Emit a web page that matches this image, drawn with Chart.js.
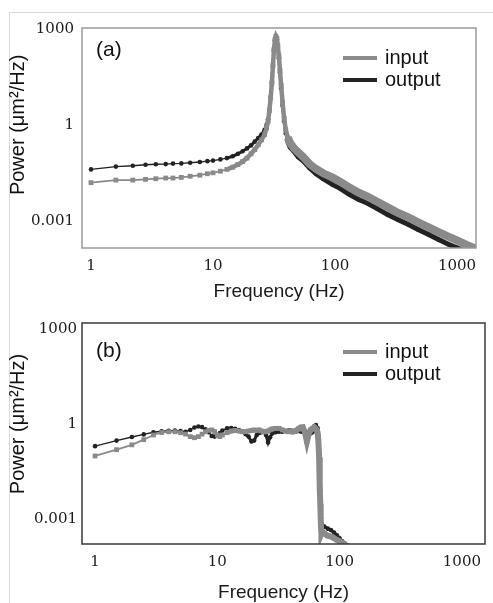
<!DOCTYPE html>
<html lang="en">
<head>
<meta charset="UTF-8">
<title>Power spectra - input vs output</title>
<script src="https://cdn.jsdelivr.net/npm/chart.js@4.4.0/dist/chart.umd.min.js"></script>
<style>
    * { margin: 0; padding: 0; box-sizing: border-box; }
    body { background: #fff; width: 493px; height: 603px; overflow: hidden; position: relative; }
    .frame {
        position: absolute; left: 9px; top: 12px; right: 0; bottom: 0;
        border-top: 1px solid #dadada; border-left: 1px solid #dadada;
    }
    canvas { position: absolute; left: 0; }
    #chartA { top: 0; }
    #chartB { top: 300px; }
</style>
</head>
<body>
<div class="frame"></div>
<canvas id="chartA" width="493" height="320"></canvas>
<canvas id="chartB" width="493" height="320"></canvas>

<script>
// ---- data ----
const xTicks = [1, 10, 100, 1000];
const xTickLabels = ['1', '10', '100', '1000'];
const yTicks = [0.001, 1, 1000];
const yTickLabels = ['0.001', '1', '1000'];
const seriesNames = ['input', 'output'];

// panel (a)
const freqA = [1, 1.6, 2.2, 2.8, 3.4, 4.1, 4.7, 5.5, 6.5, 7.8,
    9, 10, 11.5, 13, 14.5, 16, 17.5, 19, 20.5, 22,
    23.5, 25, 26.5, 27.5, 28.3, 29, 29.7, 30.4, 31, 31.6,
    32.2, 32.8, 33.4, 34, 34.7, 35.4, 36.2, 37.2, 38.3, 39.5,
    41, 43, 46, 50, 55, 62, 70, 80, 95, 110,
    130, 155, 185, 220, 270, 330, 400, 480, 580, 700,
    850, 1000, 1200, 1450];
const inputA = [0.0158, 0.019, 0.019, 0.020, 0.021, 0.022, 0.022, 0.023, 0.025, 0.027,
    0.030, 0.032, 0.036, 0.041, 0.048, 0.058, 0.072, 0.092, 0.125, 0.17,
    0.24, 0.34, 0.5, 0.8, 1.3, 2.8, 7, 20, 70, 220,
    450, 580, 500, 300, 140, 50, 17, 5, 1.6, 0.7,
    0.4, 0.27, 0.19, 0.14, 0.1, 0.06, 0.042, 0.031, 0.023, 0.017,
    0.0115, 0.0078, 0.0058, 0.0041, 0.0027, 0.0018, 0.0013, 0.00092, 0.00065, 0.00046,
    0.00033, 0.00025, 0.00018, 0.000135];
const outputA = [0.041, 0.050, 0.053, 0.057, 0.059, 0.060, 0.062, 0.063, 0.066, 0.070,
    0.074, 0.077, 0.084, 0.092, 0.105, 0.125, 0.15, 0.185, 0.23, 0.30,
    0.39, 0.50, 0.7, 1.0, 1.5, 3, 7.5, 21, 70, 210,
    430, 560, 470, 270, 120, 42, 14, 4, 1.3, 0.55,
    0.3, 0.2, 0.15, 0.1, 0.075, 0.045, 0.03, 0.021, 0.014, 0.0105,
    0.0070, 0.0048, 0.0036, 0.0025, 0.0016, 0.0011, 0.00078, 0.00055, 0.00039, 0.00027,
    0.00019, 0.000148, 0.00011, 0.00008];

// panel (b)
const freqB = [1, 1.5, 2, 2.5, 3, 3.5, 4, 4.5, 5, 5.5,
    6, 6.5, 7, 7.5, 8, 8.5, 9, 9.5, 10, 10.5,
    11, 12, 13, 14, 15, 16, 17, 18, 19, 20,
    21, 22, 23, 24, 25, 26, 27, 28, 30, 32,
    34, 36, 38, 40, 42, 44, 46, 48, 50, 52,
    54, 56, 58, 60, 62, 64, 66, 67, 68, 68.5,
    69, 69.5, 70, 70.5, 71, 72, 75, 80, 85, 90,
    95, 100, 105, 110, 115, 120];
const inputB = [0.098, 0.155, 0.22, 0.32, 0.45, 0.54, 0.57, 0.57, 0.53, 0.48,
    0.40, 0.37, 0.40, 0.48, 0.57, 0.63, 0.65, 0.58, 0.45, 0.40,
    0.45, 0.53, 0.60, 0.62, 0.60, 0.57, 0.57, 0.60, 0.62, 0.65,
    0.63, 0.65, 0.60, 0.57, 0.57, 0.60, 0.65, 0.70, 0.73, 0.73,
    0.65, 0.60, 0.57, 0.57, 0.58, 0.62, 0.70, 0.78, 0.79, 0.55,
    0.28, 0.50, 0.65, 0.72, 0.79, 0.70, 0.55, 0.30, 0.09, 0.03,
    0.010, 0.003, 0.0012, 0.0005, 0.00035, 0.0004, 0.00035, 0.0003, 0.00028, 0.00025,
    0.00022, 0.0002, 0.00018, 0.00016, 0.00014, 0.00012];
const outputB = [0.20, 0.30, 0.39, 0.47, 0.55, 0.59, 0.61, 0.62, 0.60, 0.57,
    0.65, 0.78, 0.83, 0.80, 0.68, 0.55, 0.42, 0.40, 0.45, 0.52,
    0.62, 0.73, 0.74, 0.70, 0.65, 0.58, 0.48, 0.40, 0.28, 0.30,
    0.45, 0.52, 0.55, 0.57, 0.45, 0.26, 0.38, 0.50, 0.55, 0.57,
    0.57, 0.60, 0.62, 0.62, 0.60, 0.58, 0.60, 0.58, 0.56, 0.55,
    0.53, 0.52, 0.51, 0.55, 0.85, 0.93, 0.75, 0.45, 0.12, 0.05,
    0.025, 0.008, 0.0025, 0.0011, 0.0007, 0.00065, 0.00058, 0.0005, 0.00045, 0.00038,
    0.00031, 0.00025, 0.0002, 0.00017, 0.00015, 0.00012];

// ---- styling ----
const GRAY = '#8a8a8a';
const BLACK = '#222222';
const SANS = '"Liberation Sans", Arial, sans-serif';
const SERIF = '"DejaVu Serif", serif';

// dense markers in the original make the trace look thicker at higher frequency
function widthBy(thin, mid, thick) {
    return ctx => {
        const f = ctx.p0.parsed.x;
        return f >= 40 ? thick : (f >= 12 ? mid : thin);
    };
}

// frame, panel letter, legend and y title
const decor = {
    id: 'decor',
    afterDatasetsDraw(chart, args, opts) {
        const { ctx, chartArea: a } = chart;
        ctx.save();
        ctx.strokeStyle = opts.frameColor;
        ctx.lineWidth = 1.5;
        ctx.strokeRect(a.left, a.top, a.right - a.left, a.bottom - a.top);
        ctx.restore();
    },
    afterDraw(chart, args, opts) {
        const { ctx, chartArea: a } = chart;
        ctx.save();
        ctx.fillStyle = '#111';
        ctx.textBaseline = 'middle';
        ctx.font = '21px ' + SANS;
        ctx.fillText(opts.panel, a.left + 14, a.top + opts.panelDy);

        chart.data.datasets.forEach((ds, i) => {
            const y = a.top + opts.legendDy + i * 22;
            ctx.strokeStyle = ds.borderColor;
            ctx.lineWidth = 4;
            ctx.beginPath();
            ctx.moveTo(343, y);
            ctx.lineTo(377, y);
            ctx.stroke();
            ctx.font = '20px ' + SANS;
            ctx.fillText(ds.label, 385, y);
        });

        const ys = chart.scales.y;
        const cy = (ys.getPixelForValue(yTicks[0]) + ys.getPixelForValue(yTicks[yTicks.length - 1])) / 2;
        ctx.translate(18, cy);
        ctx.rotate(-Math.PI / 2);
        ctx.textAlign = 'center';
        ctx.font = '20px ' + SANS;
        ctx.fillText('Power (\u03bcm\u00b2/Hz)', 0, 0);
        ctx.restore();
    }
};

function makePanel(id, p) {
    const canvas = document.getElementById(id);
    const H = canvas.height;
    return new Chart(canvas, {
        type: 'line',
        data: {
            datasets: [
                {
                    label: seriesNames[0],
                    data: p.freq.map((f, i) => ({ x: f, y: p.input[i] })),
                    borderColor: GRAY,
                    backgroundColor: GRAY,
                    pointStyle: 'rect',
                    pointRadius: 3.4,
                    pointBorderWidth: 0,
                    borderWidth: 2,
                    segment: { borderWidth: widthBy(1.8, 4.5, p.grayTail) }
                },
                {
                    label: seriesNames[1],
                    data: p.freq.map((f, i) => ({ x: f, y: p.output[i] })),
                    borderColor: BLACK,
                    backgroundColor: BLACK,
                    pointStyle: 'circle',
                    pointRadius: 2.3,
                    pointBorderWidth: 0,
                    borderWidth: 1.5,
                    segment: { borderWidth: widthBy(1.4, 3, p.blackTail) }
                }
            ]
        },
        options: {
            responsive: false,
            animation: false,
            layout: { padding: { left: 0, top: p.area.top, right: 493 - p.area.right, bottom: 0 } },
            plugins: {
                legend: { display: false },
                tooltip: { enabled: false },
                decor: {
                    panel: p.panel,
                    panelDy: p.panelDy,
                    legendDy: p.legendDy,
                    frameColor: p.frameColor
                }
            },
            scales: {
                x: {
                    type: 'logarithmic',
                    min: p.xMin,
                    max: p.xMax,
                    afterBuildTicks: s => { s.ticks = xTicks.map(v => ({ value: v })); },
                    afterFit: s => { s.height = H - p.area.bottom; },
                    grid: { display: false, drawTicks: false },
                    border: { display: false },
                    ticks: {
                        autoSkip: false,
                        maxRotation: 0,
                        padding: 9,
                        color: '#1e1a1a',
                        font: { family: SERIF, size: 15 },
                        callback: (v, i) => xTickLabels[i]
                    },
                    title: {
                        display: true,
                        text: 'Frequency (Hz)',
                        color: '#1a1a1a',
                        font: { family: SANS, size: 19 },
                        padding: { top: 0, bottom: p.xTitlePad }
                    }
                },
                y: {
                    type: 'logarithmic',
                    min: p.yMin,
                    max: p.yMax,
                    afterBuildTicks: s => { s.ticks = yTicks.map(v => ({ value: v })); },
                    afterFit: s => { s.width = p.area.left; },
                    grid: { display: false, drawTicks: false },
                    border: { display: false },
                    ticks: {
                        autoSkip: false,
                        padding: p.yTickPad,
                        color: '#1e1a1a',
                        font: { family: SERIF, size: 15 },
                        callback: (v, i) => yTickLabels[i]
                    }
                }
            }
        },
        plugins: [decor]
    });
}

makePanel('chartA', {
    panel: '(a)', freq: freqA, input: inputA, output: outputA,
    area: { left: 82, top: 28, right: 476, bottom: 248 },
    xMin: 0.844, xMax: 1432, yMin: 1.45e-4, yMax: 1050,
    panelDy: 22, legendDy: 30, frameColor: '#9a9a9a',
    xTitlePad: 17, yTickPad: 8, grayTail: 8, blackTail: 5
});

makePanel('chartB', {
    panel: '(b)', freq: freqB, input: inputB, output: outputB,
    area: { left: 82, top: 23, right: 485, bottom: 244 },
    xMin: 0.782, xMax: 1545, yMin: 1.64e-4, yMax: 1535,
    panelDy: 28, legendDy: 29, frameColor: '#3a3a3a',
    xTitlePad: 16, yTickPad: 5, grayTail: 6, blackTail: 3
});
</script>
</body>
</html>
